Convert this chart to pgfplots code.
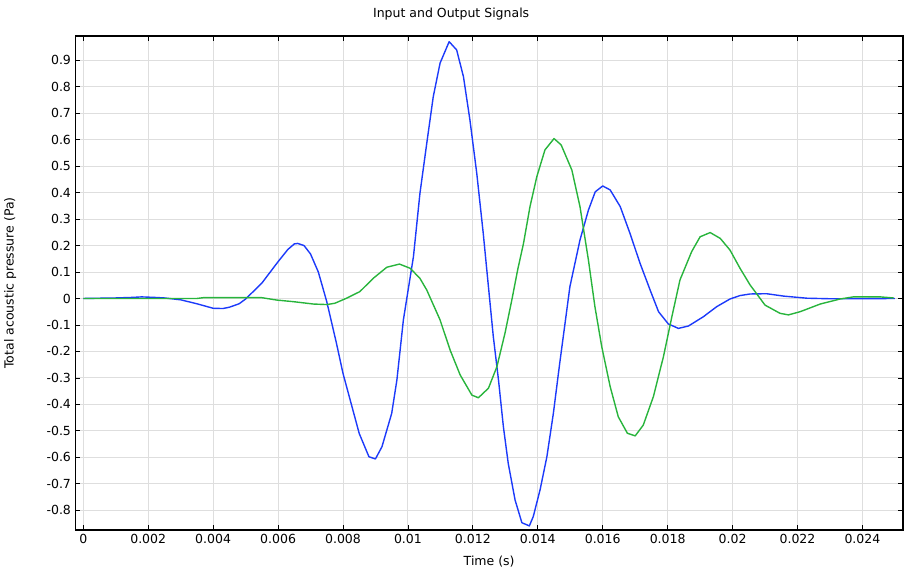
\documentclass[border=0pt]{standalone}
\usepackage{pgfplots}
\pgfplotsset{compat=1.18}
\usepackage{fontspec}
\setmainfont{DejaVu Sans}
\definecolor{cblue}{RGB}{28,58,250}
\definecolor{cgreen}{RGB}{40,180,60}
\definecolor{cgrid}{RGB}{222,222,222}
\begin{document}
\fontsize{12.5pt}{14pt}\selectfont
\begin{tikzpicture}
\useasboundingbox (-75.3pt,-42pt) rectangle (833.7pt,530pt);
\begin{axis}[
  at={(0pt,0pt)}, anchor=south west,
  scale only axis, width=827.7pt, height=494pt,
  xmin=-0.000246, xmax=0.02525,
  ymin=-0.8745, ymax=0.9915,
  xtick={0,0.002,...,0.0241},
  ytick={-0.8,-0.7,-0.6,-0.5,-0.4,-0.3,-0.2,-0.1,0,0.1,0.2,0.3,0.4,0.5,0.6,0.7,0.8,0.9},
  scaled x ticks=false, scaled y ticks=false,
  xticklabel style={/pgf/number format/fixed,/pgf/number format/precision=3},
  yticklabel style={/pgf/number format/fixed,/pgf/number format/precision=1},
  /pgf/number format/assume math mode=true,
  tick label style={font=\fontsize{12.5pt}{14pt}\selectfont},
  label style={font=\fontsize{12.5pt}{14pt}\selectfont},
  title style={font=\fontsize{12.5pt}{14pt}\selectfont},
  tick align=inside, tick pos=both, major tick length=5pt,
  tick style={black, line width=0.8pt},
  grid=major, major grid style={cgrid, line width=0.9pt},
  axis line style={black, line width=1.2pt},
  title={Input and Output Signals},
  title style={at={(axis description cs:0.5,1)}, anchor=center, yshift=16pt, xshift=-38pt},
  xlabel={Time (s)},
  xlabel style={at={(axis description cs:0.5,0)}, anchor=center, yshift=-32pt},
  ylabel={Total acoustic pressure (Pa)},
  ylabel style={at={(axis description cs:0,0.5)}, anchor=center, yshift=65pt},
  every axis plot/.append style={line width=1.4pt, line join=round},
]
\addplot[cblue] coordinates {
(0,0) (0.0005,0.001) (0.001,0.002) (0.0015,0.004) (0.0018,0.006) (0.0022,0.004) (0.0025,0.002) (0.003,-0.005) (0.0035,-0.02) (0.004,-0.037) (0.0043,-0.038) (0.0045,-0.033) (0.0048,-0.02) (0.005,-0.002) (0.0055,0.058) (0.006,0.139) (0.0063,0.185) (0.0065,0.206) (0.0066,0.208) (0.0068,0.2) (0.007,0.168) (0.00724,0.10) (0.0075,-0.012) (0.0078,-0.17) (0.008,-0.283) (0.0085,-0.51) (0.0088,-0.598) (0.009,-0.606) (0.0092,-0.56) (0.0095,-0.434) (0.00966,-0.308) (0.00986,-0.081) (0.01017,0.158)
(0.01037,0.397) (0.01058,0.586) (0.01078,0.762) (0.01099,0.889) (0.01127,0.970) (0.0115,0.939) (0.01171,0.838) (0.01191,0.674) (0.01212,0.473) (0.01232,0.246) (0.01245,0.082) (0.01263,-0.144) (0.01279,-0.308) (0.01294,-0.484) (0.01309,-0.623) (0.0133,-0.761) (0.01351,-0.847) (0.01374,-0.859) (0.01386,-0.824) (0.01407,-0.723) (0.01428,-0.598) (0.01448,-0.434) (0.01467,-0.25) (0.01499,0.045) (0.0153,0.221) (0.01556,0.334) (0.01577,0.403) (0.016,0.425) (0.01623,0.41) (0.01654,0.347) (0.01684,0.246) (0.01715,0.133) (0.01746,0.032) (0.01772,-0.05) (0.01802,-0.096) (0.01833,-0.113) (0.01864,-0.104) (0.0191,-0.069) (0.01951,-0.031) (0.01992,-0.002) (0.02023,0.011) (0.02054,0.017) (0.02105,0.018) (0.02157,0.009) (0.02229,0.001) (0.023,-0.001) (0.024,-0.001) (0.025,0)
};
\addplot[cgreen] coordinates {
(0,0) (0.0035,0) (0.0037,0.003) (0.0055,0.003) (0.00596,-0.006) (0.00647,-0.012) (0.00709,-0.021) (0.0075,-0.023) (0.00775,-0.018) (0.00811,0.001) (0.00852,0.026) (0.00893,0.076) (0.00935,0.118) (0.00974,0.130) (0.01007,0.114) (0.01037,0.076) (0.01058,0.032) (0.01099,-0.081) (0.0113,-0.195) (0.01161,-0.289) (0.01197,-0.365) (0.01217,-0.375) (0.01248,-0.339) (0.01274,-0.258) (0.01299,-0.131) (0.0132,-0.006) (0.01338,0.108) (0.01356,0.208) (0.01376,0.347) (0.01397,0.46) (0.01422,0.561) (0.0145,0.604) (0.01472,0.58) (0.01505,0.485) (0.0153,0.347) (0.01556,0.145) (0.01576,-0.031) (0.01597,-0.182) (0.01623,-0.333) (0.01648,-0.447) (0.01676,-0.509) (0.017,-0.519) (0.01725,-0.478) (0.01756,-0.371) (0.01787,-0.22) (0.01813,-0.069) (0.01838,0.07) (0.01874,0.177) (0.019,0.233) (0.01931,0.249) (0.01962,0.227) (0.01992,0.183) (0.02023,0.114) (0.02054,0.051) (0.021,-0.025) (0.02146,-0.056) (0.02172,-0.062) (0.02208,-0.05) (0.0227,-0.021) (0.02331,-0.002) (0.02372,0.006) (0.02455,0.006) (0.02496,0.002)
};
\end{axis}
\end{tikzpicture}
\end{document}
